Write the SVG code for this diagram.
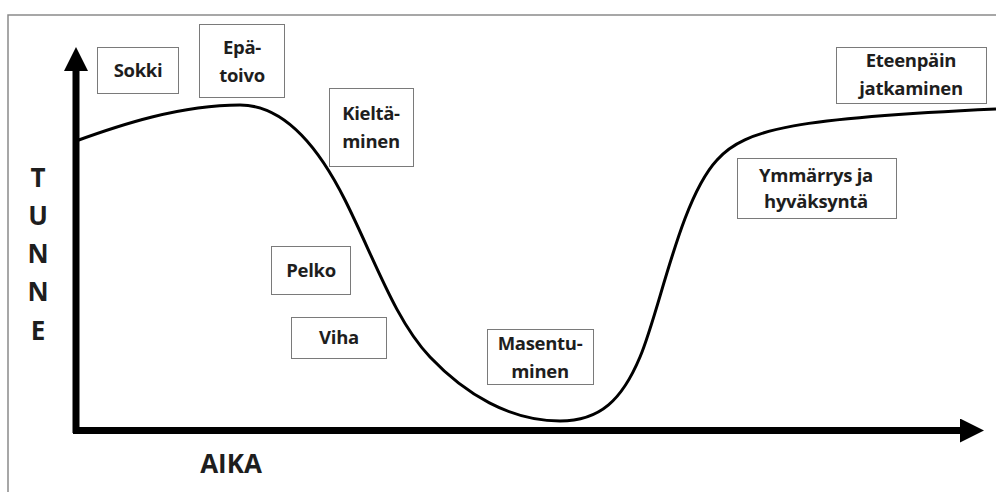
<svg xmlns="http://www.w3.org/2000/svg" width="996" height="492" viewBox="0 0 996 492">
  <style>
    .frame { fill: none; stroke: #8a8a8a; stroke-width: 1.5; }
    .box rect { fill: #ffffff; stroke: #7a7a7a; stroke-width: 1; }
    .box text, .axis-label { font-family: "Open Sans", Lato, sans-serif; font-weight: bold; fill: #1e1e1e; text-anchor: middle; }
    .box text { font-size: 18.5px; letter-spacing: -0.3px; }
    .axis-label { font-size: 26px; }
    .axis { stroke: #000000; stroke-width: 7; fill: none; }
    .curve { stroke: #000000; stroke-width: 3; fill: none; }
  </style>
  <defs>
    <marker id="axis-head" markerUnits="userSpaceOnUse" markerWidth="26" markerHeight="26" refX="2" refY="12" orient="auto">
      <path d="M0,0 L24,12 L0,24 Z" fill="#000000"/>
    </marker>
  </defs>

  <rect width="996" height="492" fill="#ffffff"/>
  <!-- outer frame (top and left edges) -->
  <path class="frame" d="M8,492 V15 H996"/>

  <!-- axes and emotion curve -->
  <g id="connectors">
    <path class="axis" d="M76,433 V69" marker-end="url(#axis-head)"/>
    <path class="axis" d="M73,430.5 H962" marker-end="url(#axis-head)"/>
    <path class="curve" d="M76,141 C120,125 180,105 240,105 C280,105 315,140 345,200 C375,260 395,320 430,357 C465,394 510,421 560,421 C600,421 622,400 640,357 C660,310 680,200 717,160 C745,128 800,118 996,109"/>
  </g>

  <!-- axis titles -->
  <g id="axis-y-title">
    <text class="axis-label" x="38" y="187">T</text>
    <text class="axis-label" x="38" y="225">U</text>
    <text class="axis-label" x="38" y="263">N</text>
    <text class="axis-label" x="38" y="301">N</text>
    <text class="axis-label" x="38" y="340">E</text>
  </g>
  <g id="axis-x-title">
    <text class="axis-label" x="231" y="473">AIKA</text>
  </g>

  <!-- stage labels -->
  <g id="sokki" class="box">
    <rect x="97.5" y="47.5" width="81" height="46"/>
    <text x="138" y="77">Sokki</text>
  </g>
  <g id="epatoivo" class="box">
    <rect x="199.5" y="24.5" width="85" height="73"/>
    <text x="242" y="54">Epä-</text>
    <text x="242" y="82">toivo</text>
  </g>
  <g id="kieltaminen" class="box">
    <rect x="329.5" y="88.5" width="84" height="78"/>
    <text x="371" y="120">Kieltä-</text>
    <text x="371" y="148">minen</text>
  </g>
  <g id="pelko" class="box">
    <rect x="271.5" y="246.5" width="79" height="48"/>
    <text x="311" y="277">Pelko</text>
  </g>
  <g id="viha" class="box">
    <rect x="291.5" y="317.5" width="95" height="41"/>
    <text x="339" y="344">Viha</text>
  </g>
  <g id="masentuminen" class="box">
    <rect x="487.5" y="329.5" width="106" height="55"/>
    <text x="540" y="350">Masentu-</text>
    <text x="540" y="378">minen</text>
  </g>
  <g id="ymmarrys" class="box">
    <rect x="737.5" y="158.5" width="159" height="60"/>
    <text x="816" y="182">Ymmärrys ja</text>
    <text x="816" y="208">hyväksyntä</text>
  </g>
  <g id="eteenpain" class="box">
    <rect x="836.5" y="47.5" width="150" height="56"/>
    <text x="911" y="67">Eteenpäin</text>
    <text x="911" y="95">jatkaminen</text>
  </g>
</svg>
